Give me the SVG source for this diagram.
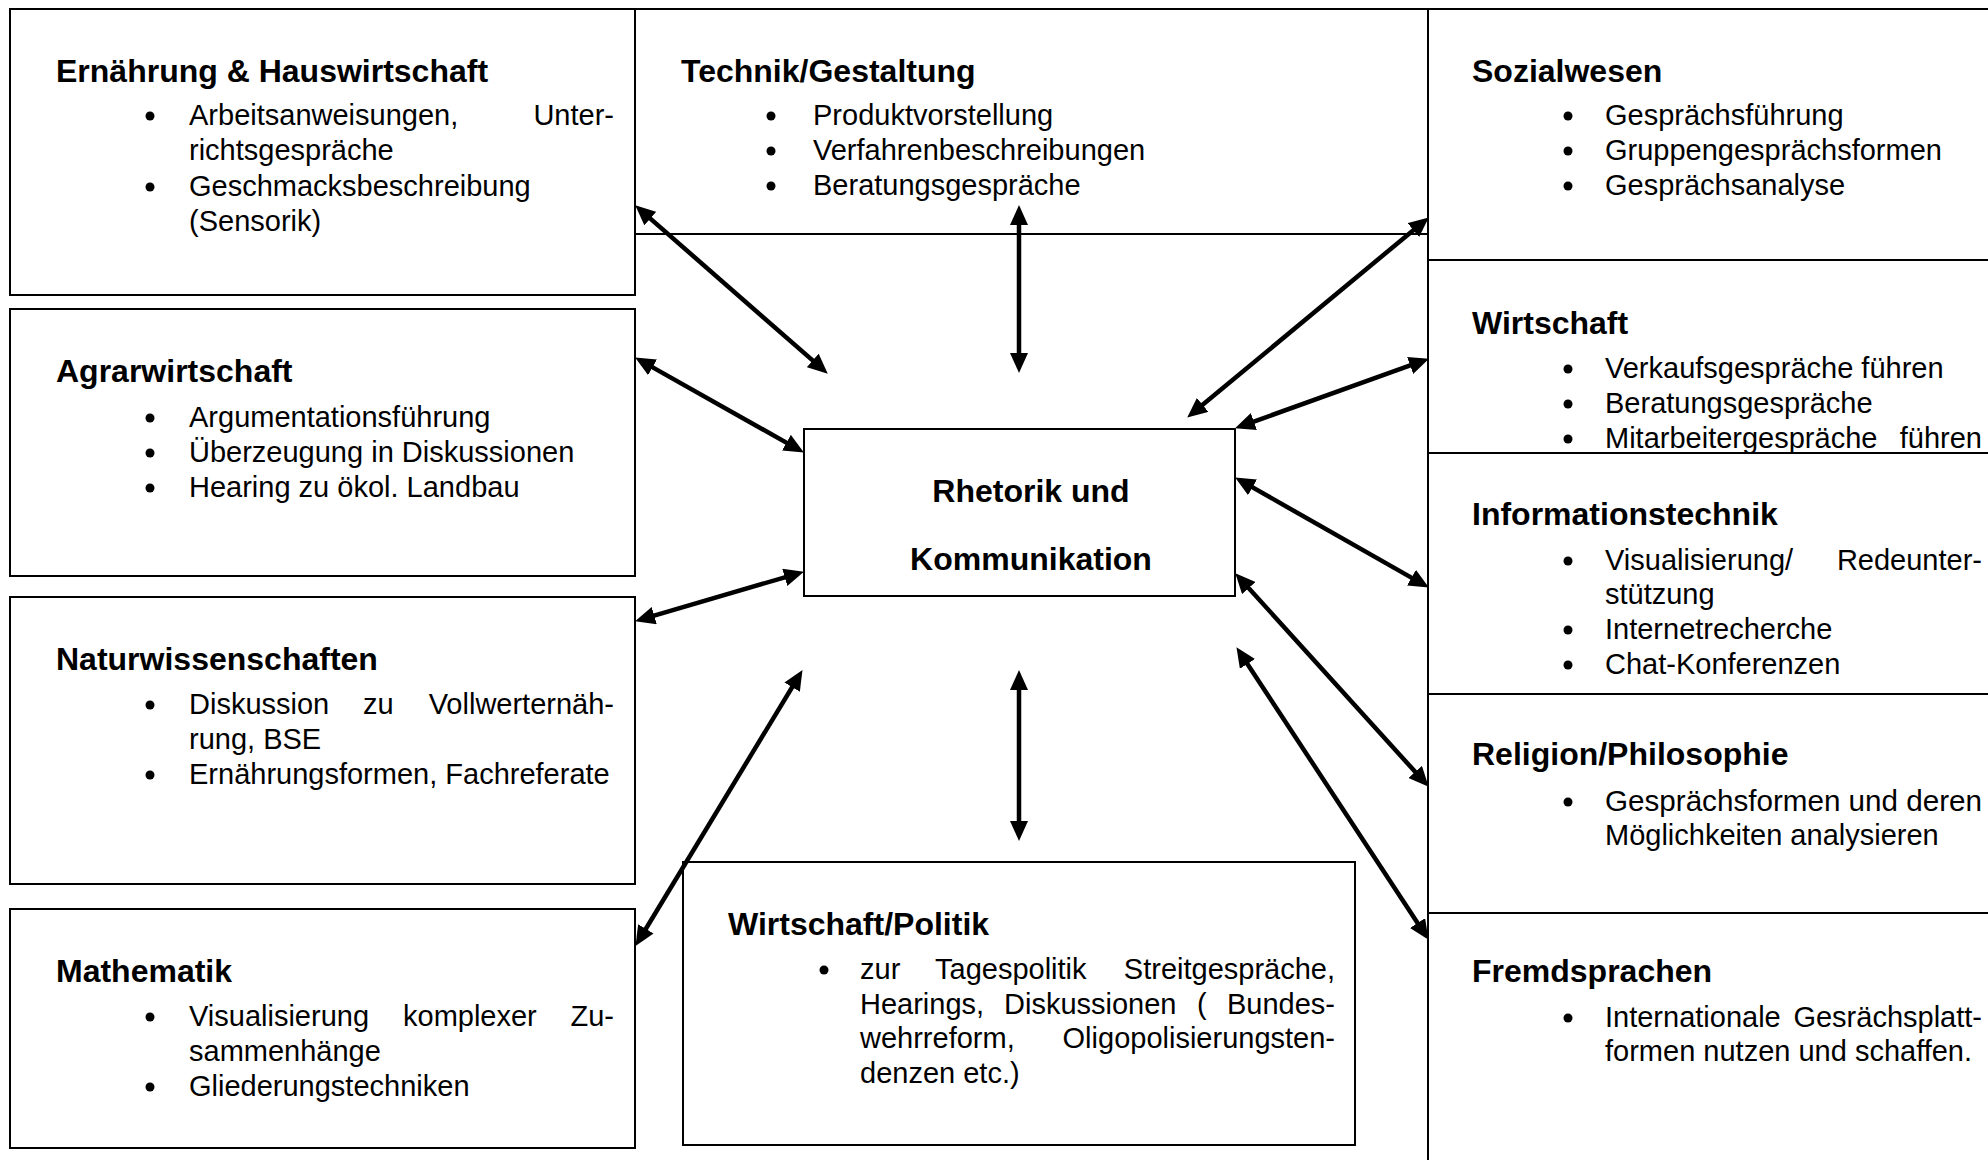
<svg xmlns="http://www.w3.org/2000/svg" width="1988" height="1160" viewBox="0 0 1988 1160">
<defs>
<style>
.box{fill:#fff;stroke:#000;stroke-width:2}
.ln{stroke:#000;stroke-width:2;fill:none}
.h{font-family:"Liberation Sans",Arial,sans-serif;font-weight:bold;font-size:32px;fill:#000}
.t{font-family:"Liberation Sans",Arial,sans-serif;font-size:29px;fill:#000}
.e{text-anchor:end}
.c{text-anchor:middle}
.dot{fill:#000}
.arr{stroke:#000;stroke-width:4.5;fill:none;marker-start:url(#ah);marker-end:url(#ah)}
</style>
<marker id="ah" viewBox="0 0 20 18" refX="9" refY="9" markerWidth="20" markerHeight="18" markerUnits="userSpaceOnUse" orient="auto-start-reverse">
<path d="M0,0 L20,9 L0,18 z" fill="#000"/>
</marker>
</defs>
<rect width="1988" height="1160" fill="#fff"/>

<g id="frame">
<line class="ln" x1="10" y1="9" x2="1988" y2="9"/>
<line class="ln" x1="1428" y1="9" x2="1428" y2="1160"/>
</g>

<g id="ernaehrung">
<rect class="box" x="10" y="9" width="625" height="286"/>
<text class="h" x="56" y="82">Ernährung &amp; Hauswirtschaft</text>
<circle class="dot" cx="150" cy="116" r="4.5"/>
<text class="t" x="189" y="125">Arbeitsanweisungen,</text>
<text class="t e" x="614" y="125">Unter-</text>
<text class="t" x="189" y="160">richtsgespräche</text>
<circle class="dot" cx="150" cy="187" r="4.5"/>
<text class="t" x="189" y="196">Geschmacksbeschreibung</text>
<text class="t" x="189" y="231">(Sensorik)</text>
</g>

<g id="agrar">
<rect class="box" x="10" y="309" width="625" height="267"/>
<text class="h" x="56" y="382">Agrarwirtschaft</text>
<circle class="dot" cx="150" cy="418" r="4.5"/>
<text class="t" x="189" y="427">Argumentationsführung</text>
<circle class="dot" cx="150" cy="453" r="4.5"/>
<text class="t" x="189" y="462">Überzeugung in Diskussionen</text>
<circle class="dot" cx="150" cy="488" r="4.5"/>
<text class="t" x="189" y="497">Hearing zu ökol. Landbau</text>
</g>

<g id="natur">
<rect class="box" x="10" y="597" width="625" height="287"/>
<text class="h" x="56" y="670">Naturwissenschaften</text>
<circle class="dot" cx="150" cy="705" r="4.5"/>
<text class="t" x="189" y="714">Diskussion</text>
<text class="t" x="363" y="714">zu</text>
<text class="t e" x="614" y="714">Vollwerternäh-</text>
<text class="t" x="189" y="749">rung, BSE</text>
<circle class="dot" cx="150" cy="775" r="4.5"/>
<text class="t" x="189" y="784">Ernährungsformen, Fachreferate</text>
</g>

<g id="mathematik">
<rect class="box" x="10" y="909" width="625" height="239"/>
<text class="h" x="56" y="982">Mathematik</text>
<circle class="dot" cx="150" cy="1017" r="4.5"/>
<text class="t" x="189" y="1026">Visualisierung</text>
<text class="t" x="403" y="1026">komplexer</text>
<text class="t e" x="614" y="1026">Zu-</text>
<text class="t" x="189" y="1061">sammenhänge</text>
<circle class="dot" cx="150" cy="1087" r="4.5"/>
<text class="t" x="189" y="1096">Gliederungstechniken</text>
</g>

<g id="technik">
<line class="ln" x1="635" y1="234" x2="1428" y2="234"/>
<text class="h" x="681" y="82">Technik/Gestaltung</text>
<circle class="dot" cx="771" cy="116" r="4.5"/>
<text class="t" x="813" y="125">Produktvorstellung</text>
<circle class="dot" cx="771" cy="151" r="4.5"/>
<text class="t" x="813" y="160">Verfahrenbeschreibungen</text>
<circle class="dot" cx="771" cy="186" r="4.5"/>
<text class="t" x="813" y="195">Beratungsgespräche</text>
</g>

<g id="sozialwesen">
<text class="h" x="1472" y="82">Sozialwesen</text>
<circle class="dot" cx="1568" cy="116" r="4.5"/>
<text class="t" x="1605" y="125">Gesprächsführung</text>
<circle class="dot" cx="1568" cy="151" r="4.5"/>
<text class="t" x="1605" y="160">Gruppengesprächsformen</text>
<circle class="dot" cx="1568" cy="186" r="4.5"/>
<text class="t" x="1605" y="195">Gesprächsanalyse</text>
<line class="ln" x1="1428" y1="260" x2="1988" y2="260"/>
</g>

<g id="wirtschaft">
<text class="h" x="1472" y="334">Wirtschaft</text>
<circle class="dot" cx="1568" cy="369" r="4.5"/>
<text class="t" x="1605" y="378">Verkaufsgespräche führen</text>
<circle class="dot" cx="1568" cy="404" r="4.5"/>
<text class="t" x="1605" y="413">Beratungsgespräche</text>
<circle class="dot" cx="1568" cy="439" r="4.5"/>
<text class="t" x="1605" y="448">Mitarbeitergespräche</text>
<text class="t e" x="1982" y="448">führen</text>
<line class="ln" x1="1428" y1="453" x2="1988" y2="453"/>
</g>

<g id="informationstechnik">
<text class="h" x="1472" y="525">Informationstechnik</text>
<circle class="dot" cx="1568" cy="561" r="4.5"/>
<text class="t" x="1605" y="570">Visualisierung/</text>
<text class="t e" x="1982" y="570">Redeunter-</text>
<text class="t" x="1605" y="604">stützung</text>
<circle class="dot" cx="1568" cy="630" r="4.5"/>
<text class="t" x="1605" y="639">Internetrecherche</text>
<circle class="dot" cx="1568" cy="665" r="4.5"/>
<text class="t" x="1605" y="674">Chat-Konferenzen</text>
<line class="ln" x1="1428" y1="694" x2="1988" y2="694"/>
</g>

<g id="religion">
<text class="h" x="1472" y="765">Religion/Philosophie</text>
<circle class="dot" cx="1568" cy="802" r="4.5"/>
<text class="t" x="1605" y="811" textLength="377" lengthAdjust="spacingAndGlyphs">Gesprächsformen und deren</text>
<text class="t" x="1605" y="845">Möglichkeiten analysieren</text>
<line class="ln" x1="1428" y1="913" x2="1988" y2="913"/>
</g>

<g id="fremdsprachen">
<text class="h" x="1472" y="982">Fremdsprachen</text>
<circle class="dot" cx="1568" cy="1018" r="4.5"/>
<text class="t" x="1605" y="1027">Internationale</text>
<text class="t e" x="1982" y="1027">Gesrächsplatt-</text>
<text class="t" x="1605" y="1061">formen nutzen und schaffen.</text>
</g>

<g id="wirtschaft-politik">
<rect class="box" x="683" y="862" width="672" height="283"/>
<text class="h" x="728" y="935">Wirtschaft/Politik</text>
<circle class="dot" cx="824" cy="970" r="4.5"/>
<text class="t" x="860" y="979">zur</text>
<text class="t" x="935" y="979">Tagespolitik</text>
<text class="t e" x="1335" y="979">Streitgespräche,</text>
<text class="t" x="860" y="1014">Hearings,</text>
<text class="t" x="1004" y="1014">Diskussionen</text>
<text class="t" x="1197" y="1014">(</text>
<text class="t e" x="1335" y="1014">Bundes-</text>
<text class="t" x="860" y="1048">wehrreform,</text>
<text class="t e" x="1335" y="1048">Oligopolisierungsten-</text>
<text class="t" x="860" y="1083">denzen etc.)</text>
</g>

<g id="zentrum">
<rect class="box" x="804" y="429" width="431" height="167"/>
<text class="h c" x="1031" y="502">Rhetorik und</text>
<text class="h c" x="1031" y="570">Kommunikation</text>
</g>

<g id="connectors">
<line class="arr" x1="643.5" y1="212.6" x2="819.5" y2="366.4"/>
<line class="arr" x1="1019" y1="216" x2="1019" y2="362"/>
<line class="arr" x1="1420.3" y1="224.4" x2="1195.7" y2="410.6"/>
<line class="arr" x1="1418.6" y1="362.4" x2="1245.4" y2="424.6"/>
<line class="arr" x1="644.7" y1="362.9" x2="794.3" y2="447.1"/>
<line class="arr" x1="645.6" y1="618.2" x2="793.4" y2="574.8"/>
<line class="arr" x1="1244.7" y1="482.9" x2="1419.3" y2="582.1"/>
<line class="arr" x1="1242.7" y1="581.4" x2="1421.3" y2="778.6"/>
<line class="arr" x1="1242.5" y1="656.4" x2="1422.5" y2="930.6"/>
<line class="arr" x1="641.2" y1="936.5" x2="796.8" y2="679.5"/>
<line class="arr" x1="1019" y1="681" x2="1019" y2="830"/>
</g>
</svg>
